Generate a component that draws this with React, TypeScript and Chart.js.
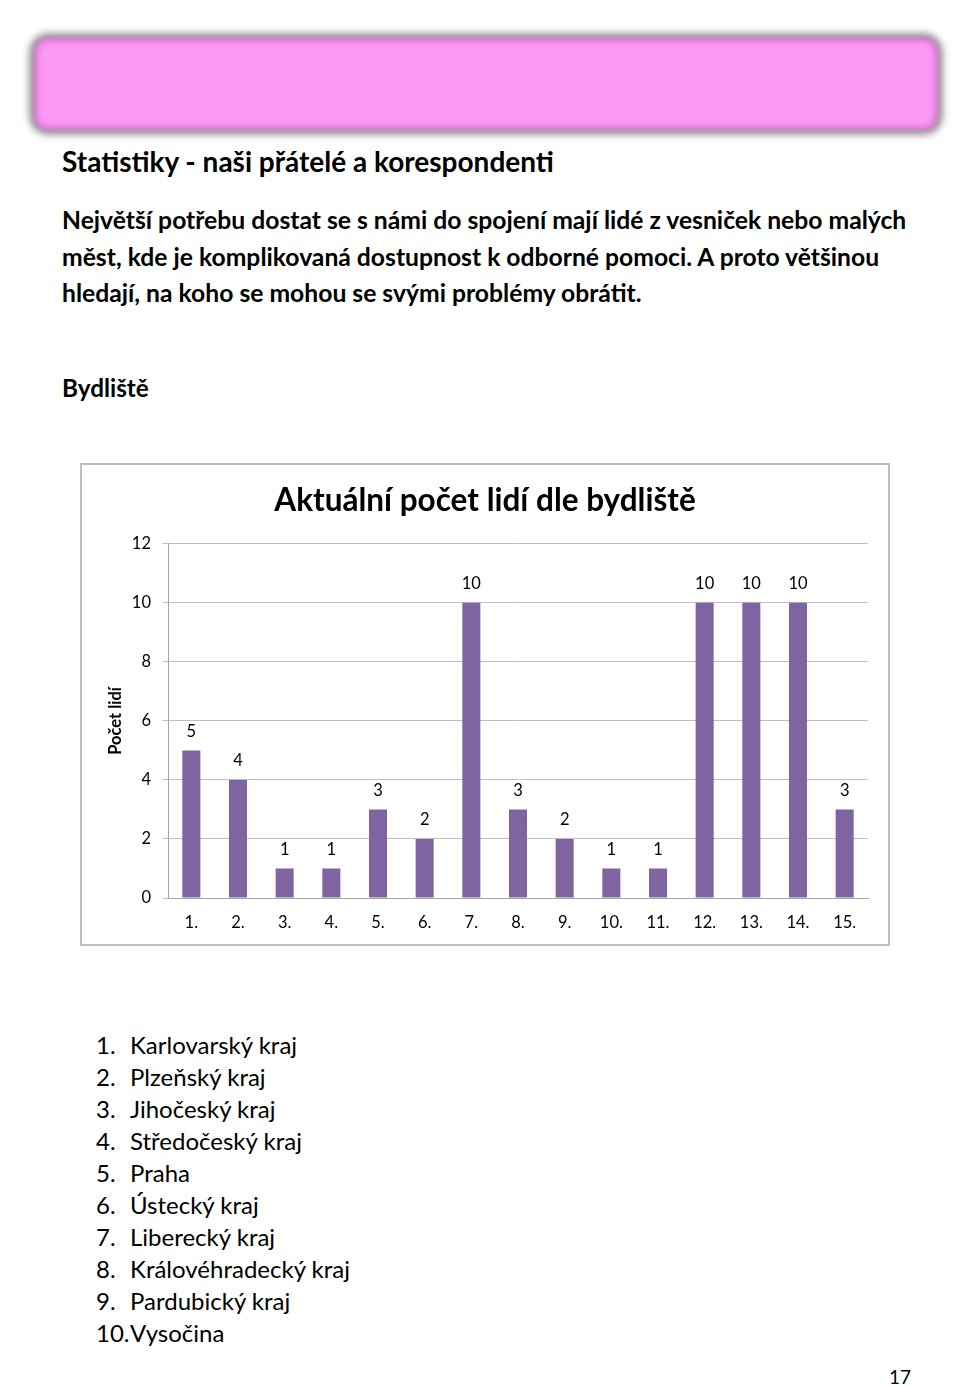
import React, { useEffect, useRef } from "react";
import { Chart, registerables } from "chart.js";

Chart.register(...registerables);

const categories = ["1.", "2.", "3.", "4.", "5.", "6.", "7.", "8.", "9.", "10.", "11.", "12.", "13.", "14.", "15."];
const counts = [5, 4, 1, 1, 3, 2, 10, 3, 2, 1, 1, 10, 10, 10, 3];
const yTicks = [0, 2, 4, 6, 8, 10, 12];
const chartTitle = "Aktuální počet lidí dle bydliště";
const yAxisTitle = "Počet lidí";
const regionNames = [
  "Karlovarský kraj",
  "Plzeňský kraj",
  "Jihočeský kraj",
  "Středočeský kraj",
  "Praha",
  "Ústecký kraj",
  "Liberecký kraj",
  "Královéhradecký kraj",
  "Pardubický kraj",
  "Vysočina",
];
const paragraphLines = [
  "Největší potřebu dostat se s námi do spojení mají lidé z vesniček nebo malých",
  "měst, kde je komplikovaná dostupnost k odborné pomoci. A proto většinou",
  "hledají, na koho se mohou se svými problémy obrátit.",
];

const FONT = "Lato, 'Open Sans', sans-serif";

const valueLabels = {
  id: "valueLabels",
  afterDatasetsDraw(chart: any) {
    const ctx = chart.ctx;
    const meta = chart.getDatasetMeta(0);
    ctx.save();
    ctx.font = `16.5px ${FONT}`;
    ctx.fillStyle = "#000";
    ctx.textAlign = "center";
    ctx.textBaseline = "middle";
    meta.data.forEach((bar: any, i: number) => {
      ctx.fillText(String(chart.data.datasets[0].data[i]), bar.x, bar.y - 19);
    });
    ctx.restore();
  },
};

function BarChart() {
  const ref = useRef<HTMLCanvasElement>(null);
  useEffect(() => {
    if (!ref.current) return;
    const chart = new Chart(ref.current, {
      type: "bar",
      data: {
        labels: categories,
        datasets: [
          {
            data: counts,
            backgroundColor: "#8064A2",
            borderWidth: 0,
            categoryPercentage: 1,
            barPercentage: 0.386,
          },
        ],
      },
      options: {
        animation: false,
        responsive: true,
        maintainAspectRatio: false,
        layout: { padding: 0 },
        plugins: {
          legend: { display: false },
          tooltip: { enabled: false },
          title: {
            display: true,
            text: chartTitle,
            color: "#000",
            font: { family: FONT, size: 31.5, weight: "bold" },
            padding: { top: 17, bottom: 24 },
          },
        },
        scales: {
          x: {
            grid: { display: false },
            border: { display: true, color: "#A6A6A6", width: 1 },
            ticks: { color: "#000", font: { family: FONT, size: 16.5 }, padding: 7, maxRotation: 0 },
            afterFit: (s: any) => {
              s.height = 46;
            },
          },
          y: {
            min: 0,
            max: 12,
            afterBuildTicks: (s: any) => {
              s.ticks = yTicks.map((v) => ({ value: v }));
            },
            grid: { color: "#BFBFBF", lineWidth: 1, tickLength: 5, drawTicks: true },
            border: { display: true, color: "#A6A6A6", width: 1 },
            ticks: { color: "#000", font: { family: FONT, size: 16.5 }, padding: 12 },
            title: {
              display: true,
              text: yAxisTitle,
              color: "#000",
              font: { family: FONT, size: 16.5, weight: "bold" },
              padding: { top: 24, bottom: 4 },
            },
            afterFit: (s: any) => {
              s.width = 86;
            },
          },
          yRight: {
            position: "right",
            display: true,
            min: 0,
            max: 12,
            grid: { display: false, drawTicks: false },
            border: { display: false },
            ticks: { display: false },
            afterFit: (s: any) => {
              s.width = 20;
            },
          },
        },
      },
      plugins: [valueLabels],
    });
    return () => chart.destroy();
  }, []);
  return (
    <div style={{ position: "relative", width: 806, height: 479 }}>
      <canvas ref={ref} />
    </div>
  );
}

export default function App() {
  const bold: React.CSSProperties = { fontFamily: FONT, fontWeight: 700, color: "#000", whiteSpace: "nowrap" };
  return (
    <div style={{ position: "absolute", left: 0, top: 0, width: 960, height: 1386, background: "#fff", overflow: "hidden" }}>
      <div
        style={{
          position: "absolute",
          left: 34,
          top: 38,
          width: 904,
          height: 92,
          background: "#FF99F8",
          borderRadius: 14,
          boxShadow: "0 0 6px 5px rgba(120,110,120,0.75), inset 0 0 6px 3px rgba(160,90,160,0.6)",
          filter: "blur(1.5px)",
        }}
      />
      <div style={{ ...bold, position: "absolute", left: 62, top: 143, fontSize: 28, lineHeight: "36px" }}>
        Statistiky - naši přátelé a korespondenti
      </div>
      {paragraphLines.map((line, i) => (
        <div key={i} style={{ ...bold, position: "absolute", left: 62, top: 203 + i * 36.5, fontSize: 24.7, lineHeight: "34px" }}>
          {line}
        </div>
      ))}
      <div style={{ ...bold, position: "absolute", left: 62, top: 371, fontSize: 24.3, lineHeight: "34px" }}>Bydliště</div>
      <div
        style={{
          position: "absolute",
          left: 80,
          top: 463,
          width: 806,
          height: 479,
          border: "2px solid #BFBFBF",
          background: "#fff",
        }}
      >
        <BarChart />
      </div>
      {regionNames.map((name, i) => (
        <div
          key={i}
          style={{
            position: "absolute",
            left: 96,
            top: 1029 + i * 32,
            fontFamily: FONT,
            fontSize: 24,
            lineHeight: "32px",
            color: "#000",
            whiteSpace: "nowrap",
          }}
        >
          <span style={{ display: "inline-block", width: 34 }}>{`${i + 1}.`}</span>
          {name}
        </div>
      ))}
      <div style={{ position: "absolute", left: 889, top: 1366, fontFamily: FONT, fontSize: 19, lineHeight: "22px", color: "#000" }}>17</div>
    </div>
  );
}
